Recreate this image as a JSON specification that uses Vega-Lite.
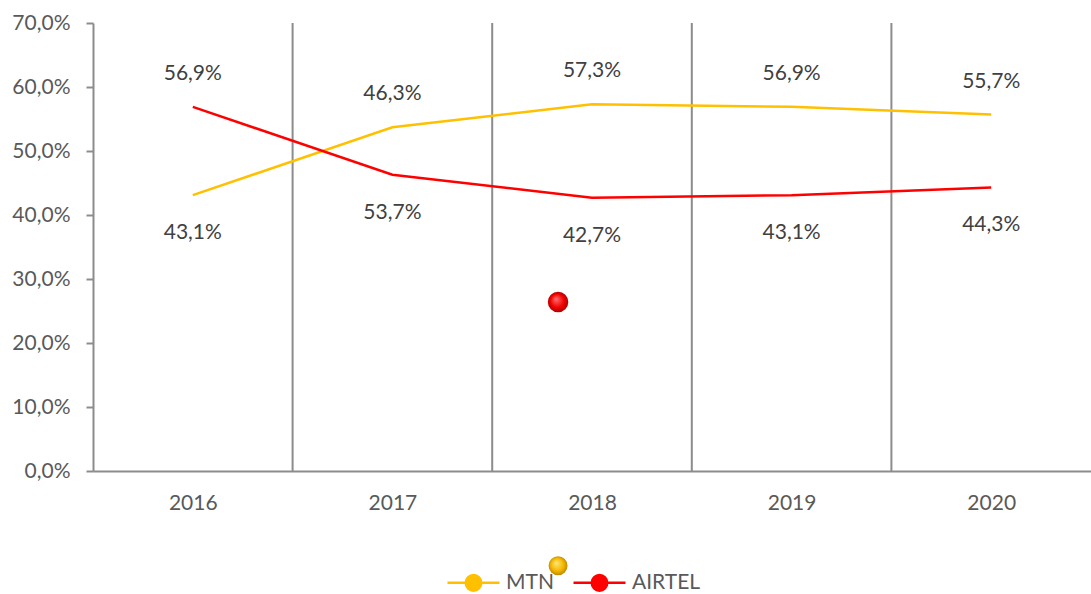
{
  "$schema": "https://vega.github.io/schema/vega-lite/v6.json",
  "autosize": {"type": "none"},
  "padding": {"left": 93, "top": 23, "right": 0, "bottom": 123},
  "width": 998,
  "height": 448,
  "background": "white",
  "config": {
    "locale": {"number": {"decimal": ",", "thousands": ".", "grouping": [3], "currency": ["", " €"]}},
    "view": {"stroke": null},
    "font": "Lato",
    "axis": {"labelFont": "Lato", "labelFontSize": 21, "labelColor": "#595959", "domainColor": "#8c8c8c", "tickColor": "#8c8c8c", "domainWidth": 2, "tickWidth": 2, "grid": false, "title": null}
  },
  "datasets": {
    "shares": [
      {"year": 2016, "series": "MTN", "share": 0.431},
      {"year": 2017, "series": "MTN", "share": 0.537},
      {"year": 2018, "series": "MTN", "share": 0.573},
      {"year": 2019, "series": "MTN", "share": 0.569},
      {"year": 2020, "series": "MTN", "share": 0.557},
      {"year": 2016, "series": "AIRTEL", "share": 0.569},
      {"year": 2017, "series": "AIRTEL", "share": 0.463},
      {"year": 2018, "series": "AIRTEL", "share": 0.427},
      {"year": 2019, "series": "AIRTEL", "share": 0.431},
      {"year": 2020, "series": "AIRTEL", "share": 0.443}
    ],
    "labels": [
      {"year": 2016, "pos": "above", "anchor": 0.569, "label": 0.569},
      {"year": 2016, "pos": "below", "anchor": 0.431, "label": 0.431},
      {"year": 2017, "pos": "above", "anchor": 0.537, "label": 0.463},
      {"year": 2017, "pos": "below", "anchor": 0.463, "label": 0.537},
      {"year": 2018, "pos": "above", "anchor": 0.573, "label": 0.573},
      {"year": 2018, "pos": "below", "anchor": 0.427, "label": 0.427},
      {"year": 2019, "pos": "above", "anchor": 0.569, "label": 0.569},
      {"year": 2019, "pos": "below", "anchor": 0.431, "label": 0.431},
      {"year": 2020, "pos": "above", "anchor": 0.557, "label": 0.557},
      {"year": 2020, "pos": "below", "anchor": 0.443, "label": 0.443}
    ],
    "dividers": [
      {"year": 2016.5}, {"year": 2017.5}, {"year": 2018.5}, {"year": 2019.5}
    ],
    "strays": [
      {"series": "AIRTEL", "year": 2017.83, "share": 0.264},
      {"series": "MTN", "year": 2017.83, "share": -0.148}
    ]
  },
  "layer": [
    {
      "data": {"name": "dividers"},
      "mark": {"type": "rule", "color": "#8c8c8c", "strokeWidth": 2},
      "encoding": {
        "x": {"field": "year", "type": "quantitative", "scale": {"domain": [2015.5, 2020.5], "nice": false, "zero": false}}
      }
    },
    {
      "data": {"name": "shares"},
      "mark": {"type": "line", "strokeWidth": 2.5},
      "encoding": {
        "x": {"field": "year", "type": "quantitative", "scale": {"domain": [2015.5, 2020.5], "nice": false, "zero": false},
          "axis": {"values": [2016, 2017, 2018, 2019, 2020], "format": "d", "ticks": false, "labelPadding": 21, "labelFlush": false}},
        "y": {"field": "share", "type": "quantitative", "scale": {"domain": [0, 0.7], "nice": false},
          "axis": {"values": [0, 0.1, 0.2, 0.3, 0.4, 0.5, 0.6, 0.7], "format": ".1%", "tickSize": 7, "labelPadding": 16}},
        "color": {"field": "series", "type": "nominal",
          "scale": {"domain": ["MTN", "AIRTEL"], "range": ["#FFC000", "#FF0000"]},
          "legend": {
            "title": null, "orient": "none", "direction": "horizontal", "legendX": 353, "legendY": 532,
            "symbolType": "M-1,0H-0.3M0.3,0H1M-0.3,0A0.3,0.3,0,1,1,0.3,0A0.3,0.3,0,1,1,-0.3,0Z",
            "symbolSize": 2704, "symbolStrokeWidth": 2.5,
            "labelFont": "Lato", "labelFontSize": 21, "labelColor": "#595959", "labelOffset": 5, "columnPadding": 14,
            "encode": {"symbols": {"update": {"fill": {"scale": "color", "field": "value"}}}}
          }
        },
        "order": {"field": "year"}
      }
    },
    {
      "data": {"name": "labels"},
      "transform": [{"filter": "datum.pos === 'above'"}],
      "mark": {"type": "text", "font": "Lato", "fontSize": 21, "color": "#404040", "dy": -33, "baseline": "middle"},
      "encoding": {
        "x": {"field": "year", "type": "quantitative"},
        "y": {"field": "anchor", "type": "quantitative"},
        "text": {"field": "label", "type": "quantitative", "format": ".1%"}
      }
    },
    {
      "data": {"name": "labels"},
      "transform": [{"filter": "datum.pos === 'below'"}],
      "mark": {"type": "text", "font": "Lato", "fontSize": 21, "color": "#404040", "dy": 38, "baseline": "middle"},
      "encoding": {
        "x": {"field": "year", "type": "quantitative"},
        "y": {"field": "anchor", "type": "quantitative"},
        "text": {"field": "label", "type": "quantitative", "format": ".1%"}
      }
    },
    {
      "data": {"name": "strays"},
      "transform": [{"filter": "datum.series === 'AIRTEL'"}],
      "mark": {"type": "point", "filled": true, "size": 420, "opacity": 1, "clip": false,
        "fill": {"gradient": "radial", "x1": 0.4, "y1": 0.35, "r1": 0, "x2": 0.5, "y2": 0.5, "r2": 0.55,
          "stops": [{"offset": 0, "color": "#ff7070"}, {"offset": 0.6, "color": "#f00000"}, {"offset": 1, "color": "#a00000"}]}},
      "encoding": {
        "x": {"field": "year", "type": "quantitative"},
        "y": {"field": "share", "type": "quantitative"}
      }
    },
    {
      "data": {"name": "strays"},
      "transform": [{"filter": "datum.series === 'MTN'"}],
      "mark": {"type": "point", "filled": true, "size": 360, "opacity": 1, "clip": false,
        "fill": {"gradient": "radial", "x1": 0.4, "y1": 0.35, "r1": 0, "x2": 0.5, "y2": 0.5, "r2": 0.55,
          "stops": [{"offset": 0, "color": "#ffe680"}, {"offset": 0.6, "color": "#f5b800"}, {"offset": 1, "color": "#b08000"}]}},
      "encoding": {
        "x": {"field": "year", "type": "quantitative"},
        "y": {"field": "share", "type": "quantitative"}
      }
    }
  ]
}
